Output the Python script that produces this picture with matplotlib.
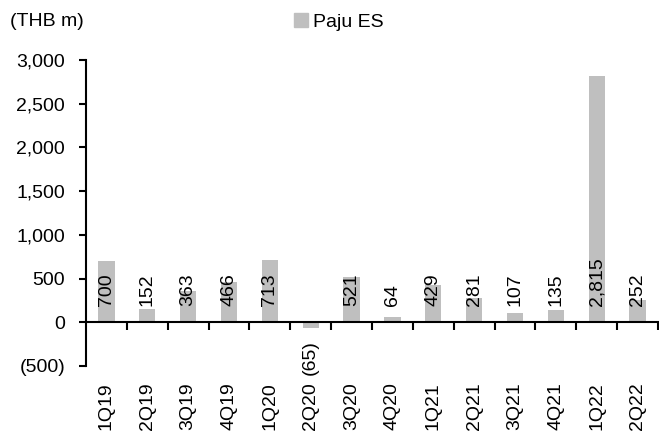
import matplotlib.pyplot as plt
from matplotlib.ticker import FuncFormatter, FixedLocator
from matplotlib.patches import Patch

# data
quarters = ['1Q19', '2Q19', '3Q19', '4Q19', '1Q20', '2Q20', '3Q20', '4Q20',
            '1Q21', '2Q21', '3Q21', '4Q21', '1Q22', '2Q22']
paju_es = [700, 152, 363, 466, 713, -65, 521, 64, 429, 281, 107, 135, 2815, 252]

plt.rcParams['font.family'] = ['Liberation Sans', 'DejaVu Sans']
plt.rcParams['font.size'] = 14

bar_color = '#BFBFBF'


def fmt(v, pos=None):
    if v < 0:
        return '({:,.0f})'.format(-v)
    return '{:,.0f}'.format(v)


fig = plt.figure(figsize=(6.59, 4.34), dpi=100)
ax = fig.add_axes([86 / 659, 1 - 366 / 434, 572 / 659, 306 / 434])

x = list(range(len(quarters)))
ax.bar(x, paju_es, width=0.4, color=bar_color)

# labels at bar base
for xi, v in zip(x, paju_es):
    if v >= 0:
        ax.annotate(fmt(v), (xi, 0), xytext=(0, 11.5), textcoords='offset points',
                    rotation=90, ha='center', va='bottom')
    else:
        ax.annotate(fmt(v), (xi, 0), xytext=(0, -12.5), textcoords='offset points',
                    rotation=90, ha='center', va='top')

ax.set_xlim(-0.5, len(quarters) - 0.5)
ax.set_ylim(-500, 3000)
ax.set_yticks(range(-500, 3001, 500))
ax.yaxis.set_major_formatter(FuncFormatter(fmt))
ax.tick_params(axis='y', direction='out', length=5, width=1.5, pad=10)

# x axis at zero, ticks between categories, labels at the bottom
ax.spines['bottom'].set_position(('data', 0))
ax.xaxis.set_major_locator(FixedLocator([i + 0.5 for i in x[:-1]] + [len(x) - 0.5]))
ax.xaxis.set_major_formatter(FuncFormatter(lambda v, p: ''))
ax.xaxis.set_minor_locator(FixedLocator(x))
ax.set_xticklabels(quarters, minor=True, rotation=90)
ax.tick_params(axis='x', which='major', direction='out', length=6, width=1.5)
ax.tick_params(axis='x', which='minor', length=0, pad=43)

for s in ['top', 'right']:
    ax.spines[s].set_visible(False)
ax.spines['left'].set_linewidth(1.5)
ax.spines['bottom'].set_linewidth(1.5)

fig.text(10 / 659, 1 - 22 / 434, '(THB m)', va='center', ha='left')
fig.legend(handles=[Patch(color=bar_color, label='Paju ES')], loc='center',
           bbox_to_anchor=(339 / 659, 1 - 22 / 434), frameon=False,
           handlelength=0.7, handleheight=0.7, handletextpad=0.3)

fig.savefig('out.png', dpi=100)
